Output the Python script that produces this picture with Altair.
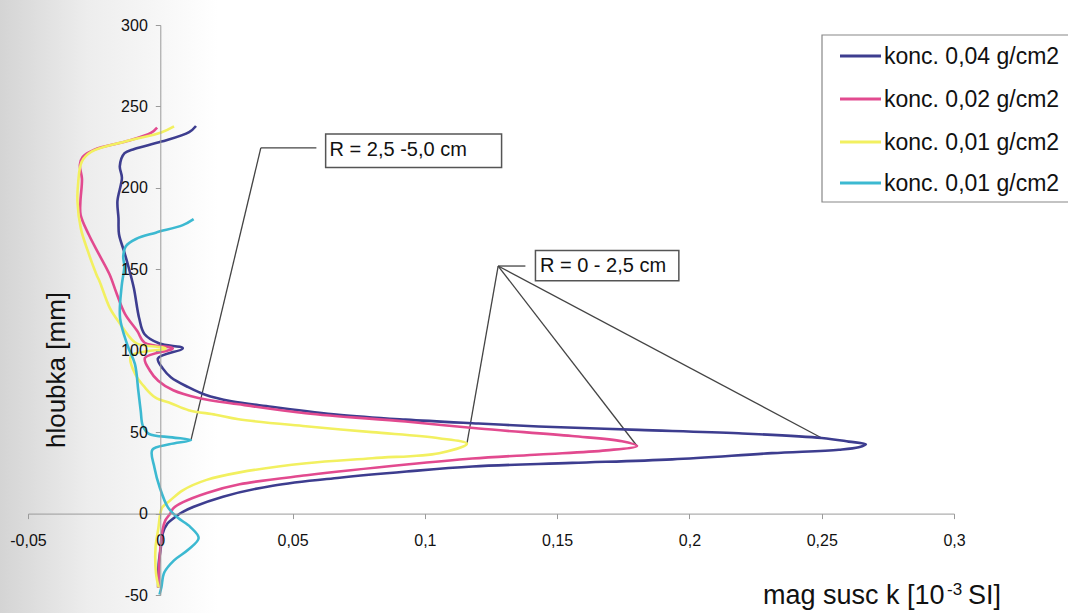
import altair as alt
import pandas as pd

# Depth profiles of magnetic susceptibility: depth [mm] and k [10^-3 SI]
series_keys = ["0,04", "0,02", "0,01a", "0,01b"]
series_labels = ["konc. 0,04 g/cm2", "konc. 0,02 g/cm2", "konc. 0,01 g/cm2", "konc. 0,01 g/cm2"]
series_colors = ["#3d3d8f", "#e24a8f", "#f2f060", "#3cb9d1"]

depth_004 = [238.0, 234.2, 228.4, 223.9, 221.3, 213.3, 206.2, 191.8, 181.5, 171.5,
             161.1, 152.0, 138.5, 120.1, 110.3, 104.4, 101.5, 95.2, 89.0, 83.6,
             77.6, 72.9, 68.9, 65.6, 60.7, 57.7, 55.3, 53.5, 51.4, 49.3,
             46.4, 44.2, 42.5, 40.7, 39.2, 37.1, 33.3, 31.1, 28.9, 25.8,
             22.0, 17.1, 10.4, 4.0, 0.2, -3.0, -6.1, -12.3, -20.9, -30.7, -45.4]
k_004 = [0.0135, 0.0109, 0.0004, -0.0098, -0.0135, -0.0153, -0.0145, -0.0162, -0.0158, -0.0156,
         -0.0137, -0.0121, -0.0100, -0.0080, -0.0060, -0.0003, 0.0085, -0.0009, 0.0010, 0.0041,
         0.0106, 0.0170, 0.0269, 0.0420, 0.0674, 0.0927, 0.1203, 0.1430, 0.1808, 0.2186,
         0.2500, 0.2602, 0.2667, 0.2640, 0.2565, 0.2312, 0.1935, 0.1557, 0.1180, 0.0931,
         0.0678, 0.0425, 0.0237, 0.0124, 0.0076, 0.0049, 0.0027, 0.0009, 0.0002, -0.0006, -0.0008]

depth_002 = [237.0, 233.9, 228.7, 223.5, 219.1, 214.1, 205.5, 191.4, 183.4, 171.2,
             159.0, 146.9, 134.7, 122.5, 112.1, 104.9, 101.4, 95.6, 87.7, 81.6,
             75.7, 71.0, 67.1, 61.6, 56.5, 52.2, 47.6, 44.4, 41.5, 38.8,
             36.3, 33.8, 30.1, 23.5, 18.0, 12.7, 7.0, 3.2, 0.1, -4.2,
             -10.4, -30.7, -45.4]
k_002 = [-0.0012, -0.0034, -0.0125, -0.0249, -0.0293, -0.0304, -0.0296, -0.0302, -0.0301, -0.0270,
         -0.0231, -0.0192, -0.0164, -0.0133, -0.0087, -0.0059, 0.0047, -0.0058, -0.0039, -0.0008,
         0.0049, 0.0144, 0.0296, 0.0549, 0.0927, 0.1204, 0.1556, 0.1745, 0.1802, 0.1685,
         0.1432, 0.1179, 0.0930, 0.0553, 0.0300, 0.0176, 0.0086, 0.0049, 0.0038, 0.0019,
         0.0008, -0.0004, -0.0008]

depth_001a = [237.8, 234.0, 228.7, 222.2, 216.0, 201.8, 191.4, 174.8, 160.8, 146.7,
              142.4, 126.0, 116.3, 107.8, 104.2, 101.4, 96.7, 85.7, 77.2, 71.2,
              67.6, 63.5, 60.7, 57.9, 53.6, 50.0, 46.3, 42.9, 37.1, 34.0,
              30.9, 25.3, 20.7, 14.3, 8.0, 3.7, 0.0, -8.6, -20.9, -36.9, -45.4]
k_001a = [0.0052, 0.0003, -0.0125, -0.0260, -0.0297, -0.0311, -0.0313, -0.0300, -0.0273, -0.0241,
          -0.0229, -0.0190, -0.0151, -0.0113, -0.0086, 0.0020, -0.0111, -0.0095, -0.0057, -0.0018,
          0.0042, 0.0107, 0.0209, 0.0296, 0.0550, 0.0800, 0.1053, 0.1159, 0.1054, 0.0801,
          0.0552, 0.0300, 0.0175, 0.0085, 0.0037, 0.0007, 0.0000, -0.0007, -0.0018, -0.0016, -0.0006]

depth_001b = [180.8, 177.1, 172.5, 168.6, 164.2, 158.0, 151.9, 139.6, 120.0, 102.9,
              91.9, 75.3, 63.1, 53.9, 49.0, 46.8, 45.1, 42.5, 39.2, 28.2,
              16.0, 3.8, -2.3, -8.3, -15.0, -22.4, -28.7, -36.2, -45.4, -49.7]
k_001b = [0.0126, 0.0085, -0.0017, -0.0092, -0.0130, -0.0140, -0.0136, -0.0146, -0.0152, -0.0123,
          -0.0096, -0.0083, -0.0074, -0.0066, -0.0043, 0.0045, 0.0116, 0.0034, -0.0030, -0.0022,
          -0.0002, 0.0029, 0.0064, 0.0114, 0.0145, 0.0104, 0.0052, 0.0015, 0.0004, -0.0003]

x_ticks = [-0.05, 0, 0.05, 0.1, 0.15, 0.2, 0.25, 0.3]
y_ticks = [-50, 0, 50, 100, 150, 200, 250, 300]

# Callout boxes and their leader lines (data coordinates)
callout_text = ["R = 2,5 -5,0 cm", "R = 0 - 2,5 cm"]
callout_k = [0.0640, 0.1435]
callout_depth = [223.5, 152.0]
box_k0 = [0.0625, 0.1418]
box_k1 = [0.1290, 0.1960]
box_d0 = [212.5, 143.0]
box_d1 = [233.0, 161.5]
leader_k0 = [0.0590, 0.0380, 0.1380, 0.1277, 0.1277, 0.1277]
leader_d0 = [224.5, 224.5, 152.0, 152.0, 152.0, 152.0]
leader_k1 = [0.0380, 0.0116, 0.1277, 0.1159, 0.1802, 0.2500]
leader_d1 = [224.5, 45.1, 152.0, 42.9, 41.5, 46.4]

rows = []
for key, ds, ks in zip(series_keys,
                       [depth_004, depth_002, depth_001a, depth_001b],
                       [k_004, k_002, k_001a, k_001b]):
    for i, (d, k) in enumerate(zip(ds, ks)):
        rows.append({"series": key, "depth": d, "k": k, "idx": i})
profiles = pd.DataFrame(rows)

boxes = pd.DataFrame({"text": callout_text, "k": callout_k, "depth": callout_depth,
                      "k0": box_k0, "k1": box_k1, "d0": box_d0, "d1": box_d1})
leaders = pd.DataFrame({"k0": leader_k0, "d0": leader_d0, "k1": leader_k1, "d1": leader_d1})

FONT = "Liberation Sans"
W, H = 926, 570
x_scale = alt.Scale(domain=[-0.05, 0.3], nice=False, zero=False)
y_scale = alt.Scale(domain=[-50, 300], nice=False, zero=False)
label_expr = "replace(toString(datum.value), '.', ',')"
axis_style = dict(grid=False, tickSize=5, domainColor="#9a9a9a", tickColor="#9a9a9a",
                  labelFontSize=16, labelFont=FONT, labelColor="#111", labelFlush=False,
                  labelOverlap=False, title=None, zindex=1)

one = pd.DataFrame({"t": [0]})

# faint shading along the left margin
shade = alt.Chart(one).mark_rect(
    color=alt.LinearGradient(
        gradient="linear", x1=0, x2=1, y1=0, y2=0,
        stops=[alt.GradientStop(offset=0, color="#d4d4d4"),
               alt.GradientStop(offset=0.4, color="#ededed"),
               alt.GradientStop(offset=1, color="#ffffff")])
).encode(x=alt.value(-28), x2=alt.value(190), y=alt.value(-25), y2=alt.value(588))

lines = alt.Chart(profiles).mark_line(strokeWidth=2.6, interpolate="catmull-rom").encode(
    x=alt.X("k:Q", scale=x_scale,
            axis=alt.Axis(values=x_ticks, labelExpr=label_expr, offset=-81.4,
                          labelPadding=14, **axis_style)),
    y=alt.Y("depth:Q", scale=y_scale,
            axis=alt.Axis(values=y_ticks, labelExpr=label_expr, offset=-132.3,
                          labelPadding=8, **axis_style)),
    color=alt.Color("series:N", scale=alt.Scale(domain=series_keys, range=series_colors),
                    legend=None),
    order=alt.Order("idx:Q"),
)

leader_rules = alt.Chart(leaders).mark_rule(color="#444", strokeWidth=1.3).encode(
    x=alt.X("k0:Q", scale=x_scale), y=alt.Y("d0:Q", scale=y_scale),
    x2="k1:Q", y2="d1:Q")

box_rects = alt.Chart(boxes).mark_rect(fill="white", stroke="#555", strokeWidth=1.5).encode(
    x=alt.X("k0:Q", scale=x_scale), x2="k1:Q",
    y=alt.Y("d0:Q", scale=y_scale), y2="d1:Q")

box_text = alt.Chart(boxes).mark_text(align="left", baseline="middle", fontSize=20,
                                      font=FONT, color="#111").encode(
    x=alt.X("k:Q", scale=x_scale), y=alt.Y("depth:Q", scale=y_scale), text="text:N")

# legend: framed box with a line sample and label per series
legend_rows_y = [31, 74, 117, 158]
legend_parts = [
    alt.Chart(one).mark_rect(fill="white", stroke="#888", strokeWidth=1.2).encode(
        x=alt.value(794), x2=alt.value(1060), y=alt.value(10), y2=alt.value(177))
]
for label, color, ry in zip(series_labels, series_colors, legend_rows_y):
    legend_parts.append(
        alt.Chart(one).mark_rule(color=color, strokeWidth=3).encode(
            x=alt.value(812), x2=alt.value(853), y=alt.value(ry)))
    legend_parts.append(
        alt.Chart(one).mark_text(text=label, align="left", baseline="middle", fontSize=23,
                                 font=FONT, color="#111").encode(
            x=alt.value(856), y=alt.value(ry + 1)))

# axis titles
x_title_main = alt.Chart(one).mark_text(
    text="mag susc k [10", align="left", baseline="alphabetic", fontSize=27, font=FONT, color="#111"
).encode(x=alt.value(735), y=alt.value(579))
x_title_sup = alt.Chart(one).mark_text(
    text="-3", align="left", baseline="alphabetic", fontSize=17, font=FONT, color="#111"
).encode(x=alt.value(919), y=alt.value(570))
x_title_end = alt.Chart(one).mark_text(
    text="SI]", align="left", baseline="alphabetic", fontSize=27, font=FONT, color="#111"
).encode(x=alt.value(940), y=alt.value(579))
y_title = alt.Chart(one).mark_text(
    text="hloubka [mm]", align="center", baseline="middle", angle=270, fontSize=26, font=FONT,
    color="#111"
).encode(x=alt.value(29), y=alt.value(345))

chart = alt.layer(
    shade, leader_rules, box_rects, box_text, lines,
    *legend_parts,
    x_title_main, x_title_sup, x_title_end, y_title
).properties(
    width=W, height=H,
    autosize=alt.AutoSizeParams(type="none"),
    padding={"left": 28, "top": 25, "right": 114, "bottom": 18},
).configure(background="white").configure_view(stroke=None)

chart.save("out.html", embed_options={"renderer": "svg", "actions": False})
